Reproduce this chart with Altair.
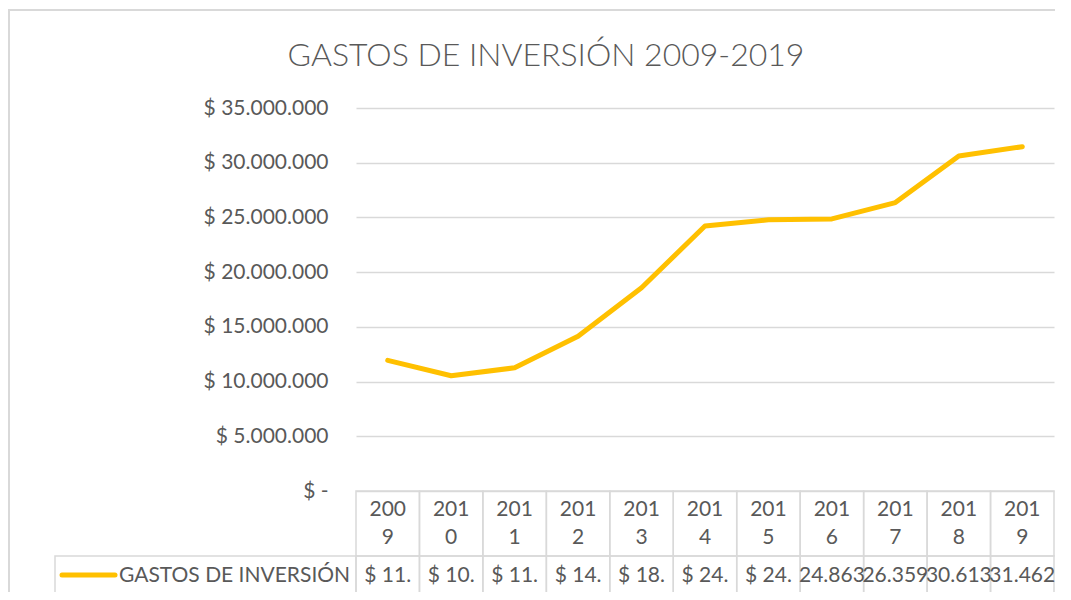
import altair as alt
import pandas as pd

# ---- data ----
anios = [2009, 2010, 2011, 2012, 2013, 2014, 2015, 2016, 2017, 2018, 2019]
gastos = [11940000, 10530000, 11260000, 14140000, 18570000, 24220000,
          24780000, 24863000, 26359000, 30613000, 31462000]
celdas = ["$ 11.", "$ 10.", "$ 11.", "$ 14.", "$ 18.", "$ 24.", "$ 24.",
          "24.863", "26.359", "30.613", "31.462"]
serie = "GASTOS DE INVERSIÓN"
titulo = "GASTOS DE INVERSIÓN 2009-2019"
ticks_y = [0, 5000000, 10000000, 15000000, 20000000, 25000000, 30000000, 35000000]

df = pd.DataFrame({"anio": anios, "gasto": gastos, "celda": celdas})
df["serie"] = serie
df["x0"] = df["anio"] - 0.5
df["x1"] = df["anio"] + 0.5
df["sup"] = [str(a)[:3] for a in anios]
df["inf"] = [str(a)[3:] for a in anios]

FONT = "Lato"
GRAY = "#595959"
GRID = "#d9d9d9"
YELLOW = "#FFC000"
FS = 21

xs = alt.Scale(domain=[2008.5, 2019.5], nice=False, zero=False)
ys = alt.Scale(domain=[0, 35000000], nice=False, zero=True)

base = alt.Chart(df)

label_expr = (
    "datum.value == 0 ? '$ -\u00a0\u00a0' : "
    "'$ ' + replace(replace(format(datum.value, ',.0f'), ',', '.'), ',', '.')"
)

line = base.mark_line(
    strokeWidth=5, strokeCap="round", strokeJoin="round", color=YELLOW
).encode(
    x=alt.X("anio:Q", scale=xs, axis=None),
    y=alt.Y(
        "gasto:Q",
        scale=ys,
        axis=alt.Axis(
            values=ticks_y,
            labelExpr=label_expr,
            grid=True, gridColor=GRID, gridWidth=1.5,
            domain=False, ticks=False, labelPadding=28,
            labelFont=FONT, labelFontSize=FS, labelColor=GRAY, title=None,
        ),
    ),
)

celdas_cab = base.mark_rect(fillOpacity=0, stroke=GRID, strokeWidth=1.5).encode(
    x=alt.X("x0:Q", scale=xs, axis=None), x2="x1", y=alt.value(383), y2=alt.value(448)
)
celdas_val = base.mark_rect(fillOpacity=0, stroke=GRID, strokeWidth=1.5).encode(
    x=alt.X("x0:Q", scale=xs, axis=None), x2="x1", y=alt.value(448), y2=alt.value(486)
)

txt_sup = base.mark_text(font=FONT, fontSize=FS, color=GRAY, baseline="middle").encode(
    x=alt.X("anio:Q", scale=xs, axis=None), y=alt.value(402), text="sup:N"
)
txt_inf = base.mark_text(font=FONT, fontSize=FS, color=GRAY, baseline="middle").encode(
    x=alt.X("anio:Q", scale=xs, axis=None), y=alt.value(430), text="inf:N"
)
txt_val = base.mark_text(font=FONT, fontSize=FS, color=GRAY, baseline="middle").encode(
    x=alt.X("anio:Q", scale=xs, axis=None), y=alt.value(468), text="celda:N"
)

ley = alt.Chart(pd.DataFrame({"serie": [serie], "titulo": [titulo]}))
ley_celda = ley.mark_rect(fillOpacity=0, stroke=GRID, strokeWidth=1.5).encode(
    x=alt.value(-301), x2=alt.value(0), y=alt.value(448), y2=alt.value(486)
)
ley_linea = ley.mark_rule(strokeWidth=5, strokeCap="round", color=YELLOW).encode(
    x=alt.value(-294), x2=alt.value(-241), y=alt.value(467)
)
ley_texto = ley.mark_text(
    font=FONT, fontSize=FS, color=GRAY, baseline="middle", align="left"
).encode(x=alt.value(-237), y=alt.value(468), text="serie:N")

titulo_txt = ley.mark_text(
    font=FONT, fontSize=32, fontWeight=300, color=GRAY, baseline="middle", align="center"
).encode(x=alt.value(190), y=alt.value(-52), text="titulo:N")

frame = ley.mark_rect(fillOpacity=0, stroke=GRID, strokeWidth=2).encode(
    x=alt.value(-347), x2=alt.value(900), y=alt.value(-98), y2=alt.value(700)
)

chart = alt.layer(
    frame, celdas_cab, celdas_val, ley_celda, line, txt_sup, txt_inf, txt_val,
    ley_linea, ley_texto, titulo_txt,
).properties(
    width=698,
    height=383,
    autosize=alt.AutoSizeParams(type="none"),
    padding={"left": 348, "top": 100, "right": 1, "bottom": 101},
).configure_view(stroke=None)

chart.save("out.html", embed_options={"renderer": "svg", "actions": False})
